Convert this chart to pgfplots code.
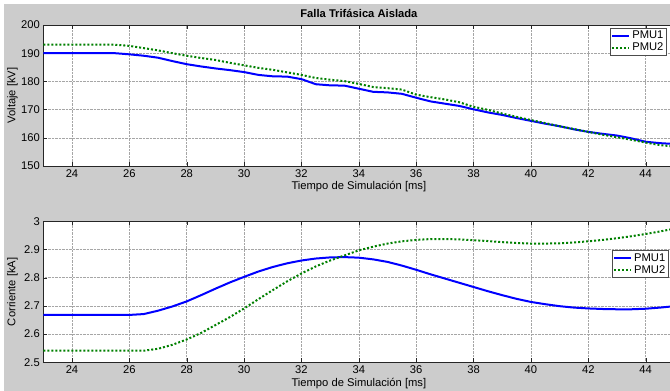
\documentclass[border=0pt]{standalone}
\usepackage{pgfplots}
\pgfplotsset{compat=1.18}
\usepackage{fontspec}
\setmainfont{Liberation Sans}
\definecolor{figgray}{RGB}{204,204,204}
\definecolor{mblue}{RGB}{0,0,255}
\definecolor{mgreen}{RGB}{0,128,0}
\newcommand{\fs}{\fontsize{11.2}{13}\selectfont}
\pgfplotsset{
  myax/.style={
    scale only axis, width=631.1pt, height=141pt,
    xmin=23, xmax=45,
    xtick={24,26,...,44},
    axis background/.style={fill=white},
    axis line style={black!85},
    tick style={black!85},
    tick align=inside,
    major tick length=4pt,
    grid=major,
    major grid style={densely dotted, black!35, line width=0.5pt},
    /pgf/number format/assume math mode=true,
    ticklabel style={font=\fs},
    label style={font=\fs},
    xlabel={Tiempo de Simulación [ms]},
    xlabel style={at={(axis description cs:0.5,0)}, anchor=center, yshift=-21pt},
    ylabel style={at={(axis description cs:-0.049,0.5)}, anchor=center},
    legend cell align=left,
    legend style={font=\fs, draw=black!70, fill=white,
      inner sep=1pt, row sep=-1.5pt, anchor=north west},
  },
  b1/.style={color=mblue, line width=2pt},
  g2/.style={color=mgreen, line width=2pt, dash pattern=on 2pt off 2pt},
}
\begin{document}
\begin{tikzpicture}[x=1pt,y=1pt]
\useasboundingbox (0,0) rectangle (670,391);
\clip (0,0) rectangle (670,391);
\fill[white] (0,0) rectangle (670,391);
\fill[figgray] (4,0) rectangle (670,387);
\begin{axis}[myax, at={(43.3pt,225pt)}, anchor=south west,
  ymin=150, ymax=200, ytick={150,160,...,200},
  ylabel={Voltaje [kV]},
  legend style={at={(rel axis cs:0.898,0.979)}}]
\addplot[b1] coordinates {(23,190) (24,190) (25,190) (25.5,190) (26,189.6) (26.5,189.1) (27,188.4) (27.5,187.2) (28,186.1) (28.5,185.3) (29,184.6) (29.5,184) (30,183.3) (30.5,182.3) (31,181.8) (31.5,181.7) (32,180.8) (32.5,179) (33,178.6) (33.5,178.5) (34,177.4) (34.5,176.3) (35,176.1) (35.5,175.6) (36,174.2) (36.5,172.9) (37,172.1) (37.5,171.3) (38,170.1) (38.5,169) (39,168.1) (39.5,167) (40,166) (40.5,165) (41,164.1) (41.5,163) (42,162.1) (42.5,161.4) (43,160.8) (43.5,159.8) (44,158.6) (44.5,158.1) (45,157.8)};
\addlegendentry{PMU1}
\addplot[g2] coordinates {(23,193) (24,193) (25,193) (25.5,193) (26,192.6) (26.5,191.8) (27,191) (27.5,190) (28,189.1) (28.5,188.3) (29,187.6) (29.5,186.6) (30,185.7) (30.5,184.8) (31,184.1) (31.5,183.2) (32,182.3) (32.5,181.2) (33,180.6) (33.5,180.1) (34,179.1) (34.5,178) (35,177.6) (35.5,177.1) (36,175.3) (36.5,174.4) (37,173.6) (37.5,172.6) (38,171) (38.5,169.9) (39,168.6) (39.5,167.4) (40,166.3) (40.5,165.2) (41,164.1) (41.5,163.1) (42,162.1) (42.5,161.1) (43,160.2) (43.5,159.3) (44,158.3) (44.5,157.4) (45,156.9)};
\addlegendentry{PMU2}
\end{axis}
\begin{axis}[myax, at={(43.3pt,28.7pt)}, anchor=south west,
  ymin=2.5, ymax=3, ytick={2.5,2.6,...,3.0},
  yticklabel style={/pgf/number format/fixed, /pgf/number format/precision=1},
  ylabel={Corriente [kA]},
  legend style={at={(rel axis cs:0.901,0.794)}}]
\addplot[b1] coordinates {(23,2.668) (24,2.668) (25,2.668) (26,2.668) (26.5,2.671) (27,2.683) (27.5,2.698) (28,2.716) (28.5,2.738) (29,2.761) (29.5,2.783) (30,2.803) (30.5,2.822) (31,2.838) (31.5,2.851) (32,2.861) (32.5,2.868) (33,2.872) (33.5,2.873) (34,2.871) (34.5,2.865) (35,2.856) (35.5,2.843) (36,2.828) (36.5,2.812) (37,2.797) (37.5,2.782) (38,2.767) (38.5,2.752) (39,2.738) (39.5,2.725) (40,2.714) (40.5,2.706) (41,2.699) (41.5,2.694) (42,2.691) (42.5,2.689) (43,2.688) (43.5,2.688) (44,2.690) (44.5,2.694) (45,2.699)};
\addlegendentry{PMU1}
\addplot[g2] coordinates {(23,2.541) (24,2.541) (25,2.541) (26,2.541) (26.5,2.541) (27,2.548) (27.5,2.562) (28,2.581) (28.5,2.604) (29,2.632) (29.5,2.660) (30,2.691) (30.5,2.724) (31,2.756) (31.5,2.787) (32,2.815) (32.5,2.840) (33,2.861) (33.5,2.879) (34,2.897) (34.5,2.910) (35,2.921) (35.5,2.929) (36,2.934) (36.5,2.937) (37,2.937) (37.5,2.936) (38,2.933) (38.5,2.930) (39,2.926) (39.5,2.923) (40,2.921) (40.5,2.921) (41,2.922) (41.5,2.925) (42,2.929) (42.5,2.934) (43,2.940) (43.5,2.947) (44,2.955) (44.5,2.964) (45,2.974)};
\addlegendentry{PMU2}
\end{axis}
\node[font=\bfseries\fs, anchor=center] at (358.9,378) {Falla Trifásica Aislada};
\end{tikzpicture}
\end{document}
